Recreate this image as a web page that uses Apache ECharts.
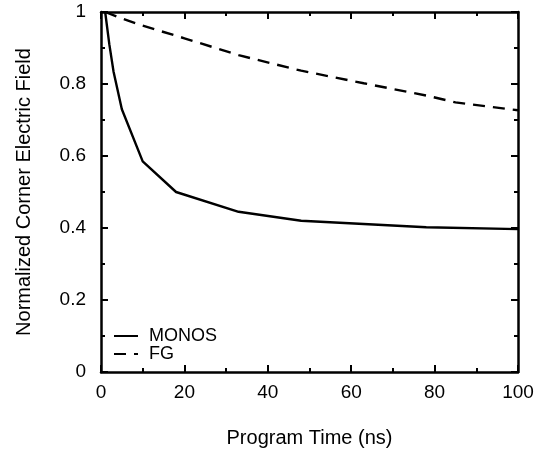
<!DOCTYPE html>
<html>
<head>
<meta charset="utf-8">
<script src="https://cdn.jsdelivr.net/npm/echarts@6/dist/echarts.min.js"></script>
<style>
  html, body { margin: 0; padding: 0; background: #fff; }
  #chart { width: 543px; height: 453px; }
</style>
</head>
<body>
<div id="chart"></div>
<script>
// Program time (ns) vs normalized corner field
let monosTime = [1, 2, 3, 5, 10, 18, 33, 48, 78, 100];
let monosField = [1.0, 0.91, 0.835, 0.73, 0.585, 0.5, 0.445, 0.42, 0.402, 0.397];
let fgTime = [1, 5, 10, 20, 33, 48, 63, 78, 85, 100];
let fgField = [1.0, 0.982, 0.962, 0.927, 0.88, 0.837, 0.802, 0.768, 0.749, 0.727];

const font = 'Liberation Sans, Arial, sans-serif';
const pair = (xs, ys) => xs.map((x, i) => [x, ys[i]]);

// shared look for the frame axes (ticks point inward on every side)
const frame = {
    axisLine: { show: true, onZero: false, lineStyle: { color: '#000', width: 2.5 } },
    axisTick: { show: true, inside: true, length: 7, lineStyle: { color: '#000', width: 2 } },
    minorTick: { show: true, splitNumber: 2, length: 4, lineStyle: { color: '#000', width: 2 } },
    splitLine: { show: false }
};

let option = {
    animation: false,
    grid: { left: 101, right: 25, top: 12, bottom: 81, outerBoundsMode: 'none', containLabel: false },
    legend: {
        orient: 'vertical',
        left: 113,
        top: 327,
        padding: 0,
        itemWidth: 24,
        itemHeight: 16,
        itemGap: 0,
        itemStyle: { opacity: 0 },
        textStyle: { fontFamily: font, fontSize: 18, color: '#000', lineHeight: 16, padding: [0, 0, 0, 6] },
        data: ['MONOS', 'FG']
    },
    xAxis: [
        Object.assign({
            type: 'value', min: 0, max: 100, interval: 20,
            name: 'Program Time (ns)',
            nameLocation: 'middle',
            nameGap: 56,
            nameTextStyle: { fontFamily: font, fontSize: 20, color: '#000' },
            axisLabel: { fontFamily: font, fontSize: 19, color: '#000', margin: 11 }
        }, frame),
        Object.assign({
            type: 'value', min: 0, max: 100, interval: 20, position: 'top',
            axisLabel: { show: false }
        }, frame)
    ],
    yAxis: [
        Object.assign({
            type: 'value', min: 0, max: 1, interval: 0.2,
            name: 'Normalized Corner Electric Field',
            nameLocation: 'middle',
            nameGap: 67,
            nameTextStyle: { fontFamily: font, fontSize: 20, color: '#000' },
            axisLabel: { fontFamily: font, fontSize: 19, color: '#000', margin: 15,
                         formatter: v => String(+v.toFixed(1)) }
        }, frame),
        Object.assign({
            type: 'value', min: 0, max: 1, interval: 0.2, position: 'right',
            axisLabel: { show: false }
        }, frame)
    ],
    series: [
        {
            name: 'MONOS',
            type: 'line',
            symbol: 'none',
            lineStyle: { color: '#000', width: 2.4, type: 'solid' },
            itemStyle: { color: '#000' },
            data: pair(monosTime, monosField)
        },
        {
            name: 'FG',
            type: 'line',
            symbol: 'none',
            lineStyle: { color: '#000', width: 2.4, type: [12, 8] },
            itemStyle: { color: '#000' },
            data: pair(fgTime, fgField)
        }
    ]
};

let chart = echarts.init(document.getElementById('chart'));
chart.setOption(option);
</script>
</body>
</html>
